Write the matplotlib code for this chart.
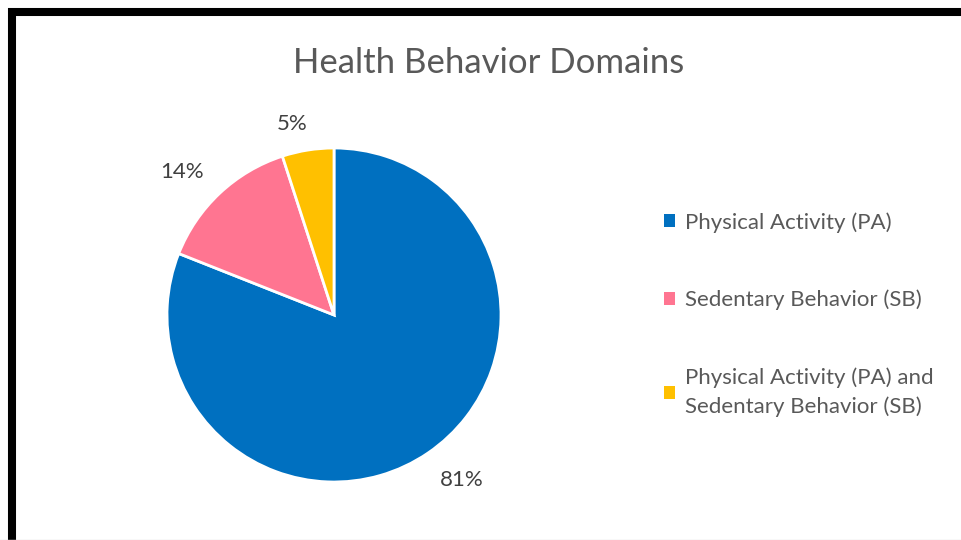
import numpy as np
import matplotlib.pyplot as plt
from matplotlib.lines import Line2D
from matplotlib.patches import Patch

plt.rcParams['font.family'] = ['Lato', 'DejaVu Sans']

domains = ['Physical Activity (PA)', 'Sedentary Behavior (SB)',
           'Physical Activity (PA) and\nSedentary Behavior (SB)']
shares = [81, 14, 5]
colors = ['#0070C0', '#FF7591', '#FFC000']
label_dist = [1.25, 1.25, 1.17]

fig = plt.figure(figsize=(9.62, 5.4), dpi=100)

# pie: centre near (334, 315) px, radius ~167 px
ax = fig.add_axes([167 / 962, 58 / 540, 334 / 962, 334 / 540])
wedges, _, pcts = ax.pie(shares, colors=colors, startangle=90, counterclock=False,
                         autopct='%.0f%%', pctdistance=1.25,
                         wedgeprops=dict(edgecolor='white', linewidth=2),
                         textprops=dict(color='#404040', fontsize=16))
# percentage labels sit just past each wedge's middle, slightly rotated ccw
for w, t, d in zip(wedges, pcts, label_dist):
    ang = np.deg2rad((w.theta1 + w.theta2) / 2 + 3.5)
    t.set_position((d * np.cos(ang), d * np.sin(ang)))
ax.set_xlim(-1, 1)
ax.set_ylim(-1, 1)
ax.set_aspect('equal')

fig.suptitle('Health Behavior Domains', x=489 / 962, y=1 - 63 / 540, va='center',
             fontsize=25, color='#595959')

handles = [Patch(facecolor=c, edgecolor='none') for c in colors]
leg = fig.legend(handles, domains, loc='upper left', bbox_to_anchor=(644 / 962, 1 - 192 / 540),
                 frameon=False, fontsize=16, labelcolor='#595959',
                 handlelength=0.5, handleheight=0.5, handletextpad=0.45, labelspacing=2.57)
leg.get_texts()[2].set_linespacing(1.5)

# thick black frame on top and left edges
fig.add_artist(Line2D([8 / 962, 1], [1 - 12 / 540, 1 - 12 / 540], color='black', lw=5.8,
                      transform=fig.transFigure, solid_capstyle='butt'))
fig.add_artist(Line2D([11.5 / 962, 11.5 / 962], [0, 1 - 8 / 540], color='black', lw=5.8,
                      transform=fig.transFigure, solid_capstyle='butt'))
fig.add_artist(Line2D([0, 1], [0.5 / 540, 0.5 / 540], color='#DDDDDD', lw=1,
                      transform=fig.transFigure))

fig.savefig('out.png', dpi=100)
